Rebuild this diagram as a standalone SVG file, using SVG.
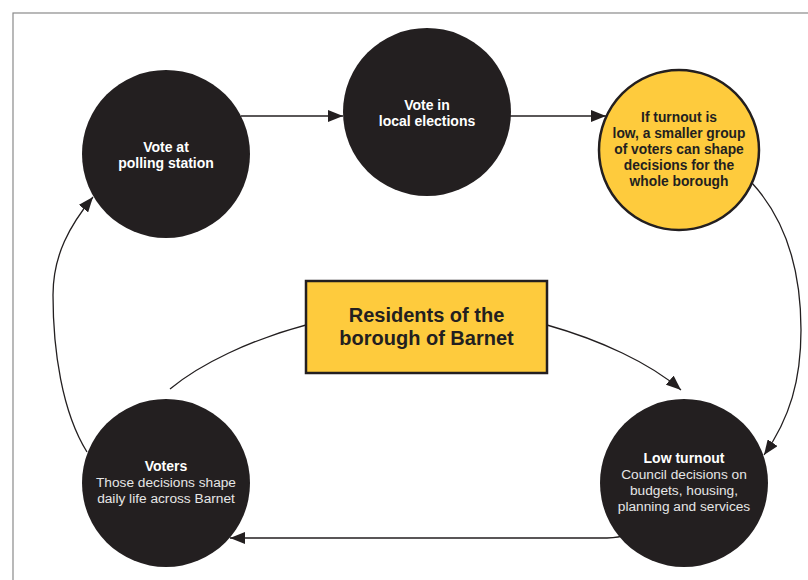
<svg xmlns="http://www.w3.org/2000/svg" width="808" height="580" viewBox="0 0 808 580">
<defs>
<style>
.frame{fill:none;stroke:#8a8a8a;stroke-width:1.2}
.dark{fill:#231f20}
.yel{fill:#fecb3d;stroke:#231f20;stroke-width:2.5}
.ln{fill:none;stroke:#231f20;stroke-width:1.3}
text{font-family:"Liberation Sans",Arial,sans-serif;text-anchor:middle}
.wb{fill:#ffffff;font-weight:bold;font-size:14px}
.wr{fill:#e6e6e6;font-size:13.7px}
.db{fill:#231f20;font-weight:bold;font-size:13.8px}
.big{fill:#231f20;font-weight:bold;font-size:20px}
</style>
<marker id="ah" markerWidth="16" markerHeight="12" refX="15" refY="6" orient="auto" markerUnits="userSpaceOnUse">
<path d="M0,0 L15,6 L0,12 Z" fill="#231f20"/>
</marker>
</defs>
<rect class="frame" x="13" y="13" width="820" height="600"/>
<g id="connectors">
<path class="ln" d="M241,116 L343,116" marker-end="url(#ah)"/>
<path class="ln" d="M510,116 L606,116" marker-end="url(#ah)"/>
<path class="ln" d="M752,183 C786,220 801,270 801,330 C801,380 790,418 764,455" marker-end="url(#ah)"/>
<path class="ln" d="M547,325 C600,340 650,363 681,390" marker-end="url(#ah)"/>
<path class="ln" d="M622,536 Q615,538 600,538 L230,538" marker-end="url(#ah)"/>
<path class="ln" d="M306,325 C250,340 200,364 170,389"/>
<path class="ln" d="M87,452 C62,412 53,350 53,295 C53,255 70,225 93,197" marker-end="url(#ah)"/>
</g>
<g id="node-polling">
<circle class="dark" cx="166" cy="154" r="84"/>
<text class="wb" x="166" y="152">Vote at</text>
<text class="wb" x="166" y="168">polling station</text>
</g>
<g id="node-local">
<circle class="dark" cx="427" cy="112" r="84"/>
<text class="wb" x="427" y="110">Vote in</text>
<text class="wb" x="427" y="126">local elections</text>
</g>
<g id="node-turnout">
<circle class="yel" cx="679" cy="150" r="80"/>
<text class="db" x="679" y="122">If turnout is</text>
<text class="db" x="679" y="138">low, a smaller group</text>
<text class="db" x="679" y="154">of voters can shape</text>
<text class="db" x="679" y="170">decisions for the</text>
<text class="db" x="679" y="186">whole borough</text>
</g>
<g id="node-residents">
<rect class="yel" x="306" y="281" width="241" height="92"/>
<text class="big" x="426.5" y="322">Residents of the</text>
<text class="big" x="426.5" y="345">borough of Barnet</text>
</g>
<g id="node-low">
<circle class="dark" cx="684" cy="483" r="84"/>
<text class="wb" x="684" y="463">Low turnout</text>
<text class="wr" x="684" y="479">Council decisions on</text>
<text class="wr" x="684" y="495">budgets, housing,</text>
<text class="wr" x="684" y="511">planning and services</text>
</g>
<g id="node-voters">
<circle class="dark" cx="166" cy="483" r="84"/>
<text class="wb" x="166" y="471">Voters</text>
<text class="wr" x="166" y="487">Those decisions shape</text>
<text class="wr" x="166" y="503">daily life across Barnet</text>
</g>
</svg>
